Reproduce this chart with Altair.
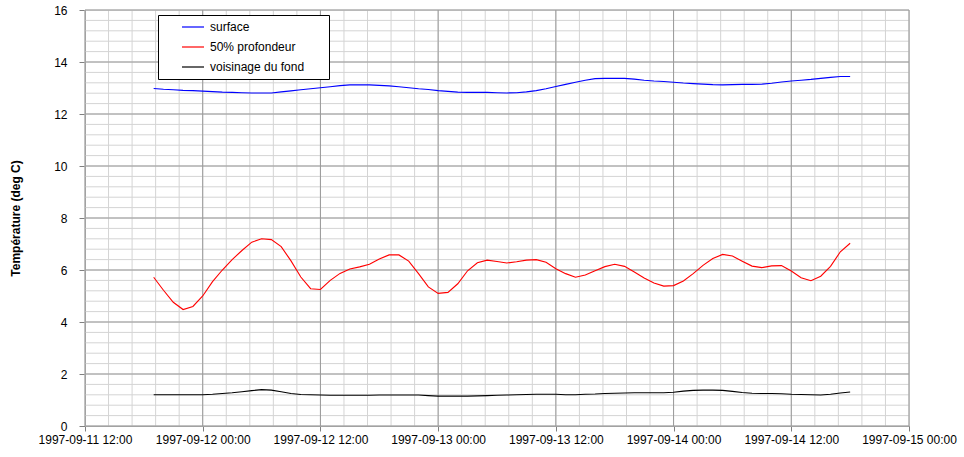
import altair as alt
import pandas as pd

FONT = "Liberation Sans"

# Hourly temperature readings, first one at 1997-09-11 19:00 (UTC)
first_reading = "1997-09-11 19:00"

surface = [
    12.98, 12.95, 12.93, 12.91, 12.90, 12.88, 12.86, 12.84, 12.83, 12.82, 12.81, 12.81,
    12.81, 12.85, 12.89, 12.93, 12.97, 13.01,
    13.05, 13.09, 13.12, 13.12, 13.12, 13.10, 13.08, 13.05, 13.01, 12.97, 12.94, 12.90,
    12.87, 12.84, 12.83, 12.83, 12.83, 12.82,
    12.81, 12.82, 12.85, 12.90, 12.97, 13.06, 13.14, 13.22, 13.30, 13.36, 13.37, 13.37,
    13.37, 13.34, 13.30, 13.27, 13.25, 13.22,
    13.19, 13.17, 13.15, 13.13, 13.12, 13.13, 13.14, 13.14, 13.15, 13.18, 13.23, 13.27,
    13.30, 13.33, 13.37, 13.41, 13.44, 13.44,
]

mid_depth = [
    5.72, 5.22, 4.76, 4.48, 4.60, 5.00, 5.55, 6.00, 6.40, 6.75, 7.07, 7.20,
    7.17, 6.90, 6.35, 5.73, 5.28, 5.25,
    5.60, 5.87, 6.04, 6.12, 6.22, 6.42, 6.58, 6.58, 6.34, 5.86, 5.35, 5.10,
    5.14, 5.47, 5.97, 6.28, 6.38, 6.33,
    6.27, 6.32, 6.38, 6.40, 6.30, 6.05, 5.86, 5.72, 5.81, 5.97, 6.13, 6.22,
    6.14, 5.92, 5.69, 5.50, 5.38, 5.40,
    5.58, 5.86, 6.18, 6.44, 6.60, 6.54, 6.34, 6.15, 6.09, 6.16, 6.17, 5.96,
    5.70, 5.59, 5.76, 6.14, 6.70, 7.03,
]

near_bottom = [
    1.20, 1.20, 1.20, 1.20, 1.20, 1.20,
    1.22, 1.25, 1.28, 1.32, 1.36, 1.40, 1.38, 1.32, 1.25, 1.21, 1.20, 1.19,
    1.18, 1.18, 1.18, 1.18, 1.18, 1.19, 1.19, 1.19, 1.19, 1.19,
    1.17, 1.15, 1.15, 1.15, 1.15, 1.16, 1.17, 1.18, 1.19, 1.20, 1.21, 1.22, 1.22, 1.22,
    1.20, 1.20, 1.22, 1.23, 1.25, 1.26, 1.27, 1.28, 1.28, 1.28, 1.28, 1.30,
    1.34, 1.37, 1.38, 1.38, 1.37, 1.33, 1.29, 1.26, 1.25, 1.25, 1.24, 1.22,
    1.21, 1.20, 1.19, 1.22, 1.27, 1.31,
]

series_names = ["surface", "50% profondeur", "voisinage du fond"]
series_colors = ["#0000ff", "#ff0000", "#000000"]

y_title = "Température (deg C)"
y_ticks = [0, 2, 4, 6, 8, 10, 12, 14, 16]
x_start = "1997-09-11 12:00"
x_end = "1997-09-15 00:00"


def iso(ts):
    return pd.Timestamp(ts).strftime("%Y-%m-%dT%H:%M:%SZ")


def dt(ts):
    t = pd.Timestamp(ts)
    return alt.DateTime(year=t.year, month=t.month, date=t.day,
                        hours=t.hour, minutes=t.minute, utc=True)


times = pd.date_range(first_reading, periods=len(surface), freq="h")
frames = []
for name, vals in zip(series_names, [surface, mid_depth, near_bottom]):
    frames.append(pd.DataFrame({"time": [iso(t) for t in times],
                                "temp": vals, "series": name}))
data = pd.concat(frames, ignore_index=True)

# grid positions: major every 12 h / 2 deg, minor every 2.4 h / 0.4 deg
major_x = pd.date_range(x_start, x_end, freq="12h")
minor_x = pd.date_range(x_start, x_end, freq="144min")
minor_y = [round(i * 0.4, 1) for i in range(41)]

x_scale = alt.Scale(type="utc", domain=[dt(x_start), dt(x_end)])
y_scale = alt.Scale(domain=[0, 16], nice=False, zero=False)

x_axis = alt.Axis(
    values=[dt(t) for t in major_x],
    labelExpr="utcFormat(datum.value, '%Y-%m-%d %H:%M')",
    grid=False, tickSize=5, tickColor="#808080", domainColor="#808080",
    labelFont=FONT, labelFontSize=12, labelColor="black", labelPadding=3,
    labelOverlap=False, labelFlush=False,
)
y_axis = alt.Axis(
    values=y_ticks, grid=False, tickSize=6, tickColor="#808080", domainColor="#808080",
    labelFont=FONT, labelFontSize=12, labelColor="black", labelPadding=12,
    title=y_title, titleFont=FONT, titleFontSize=12, titleFontWeight="bold",
    titleColor="black", titlePadding=31,
)

minor_x_grid = alt.Chart(pd.DataFrame({"t": [iso(t) for t in minor_x]})).mark_rule(
    color="#d4d4d4", strokeWidth=1
).encode(x=alt.X("t:T", scale=x_scale, axis=x_axis, title=None))

minor_y_grid = alt.Chart(pd.DataFrame({"v": minor_y})).mark_rule(
    color="#d4d4d4", strokeWidth=1
).encode(y=alt.Y("v:Q", scale=y_scale, axis=y_axis, title=y_title))

major_x_grid = alt.Chart(pd.DataFrame({"t": [iso(t) for t in major_x]})).mark_rule(
    color="#9a9a9a", strokeWidth=1
).encode(x=alt.X("t:T", scale=x_scale, axis=x_axis, title=None))

major_y_grid = alt.Chart(pd.DataFrame({"v": y_ticks})).mark_rule(
    color="#9a9a9a", strokeWidth=1
).encode(y=alt.Y("v:Q", scale=y_scale, axis=y_axis, title=y_title))

lines = alt.Chart(data).mark_line(strokeWidth=1.1).encode(
    x=alt.X("time:T", scale=x_scale, axis=x_axis, title=None),
    y=alt.Y("temp:Q", scale=y_scale, axis=y_axis, title=y_title),
    color=alt.Color(
        "series:N",
        scale=alt.Scale(domain=series_names, range=series_colors),
        legend=alt.Legend(
            title=" ", titleOrient="right", titlePadding=21,
            orient="none", legendX=73, legendY=5,
            symbolType="stroke", symbolSize=484, symbolStrokeWidth=1.2,
            labelFont=FONT, labelFontSize=12, labelColor="black", labelOffset=5,
            strokeColor="black", fillColor="white", padding=4,
            clipHeight=16, rowPadding=4, symbolOffset=19,
        ),
    ),
    detail="series:N",
)

chart = alt.layer(minor_x_grid, minor_y_grid, major_x_grid, major_y_grid, lines).properties(
    width=824, height=416,
    padding={"left": 85, "top": 10, "right": 55, "bottom": 31},
    autosize=alt.AutoSizeParams(type="none"),
).configure_view(stroke=None).configure(background="white")

chart.save("out.html", embed_options={"renderer": "svg", "actions": False})
